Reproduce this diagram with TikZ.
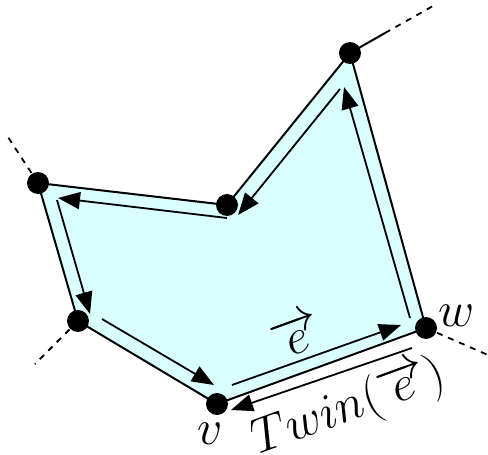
\documentclass[tikz,border=0pt]{standalone}
\usetikzlibrary{arrows.meta}
\definecolor{facefill}{RGB}{218,255,255}
\begin{document}
\begin{tikzpicture}[x=0.5pt,y=-0.5pt,
  vdot/.style={circle,fill=black,inner sep=0pt,minimum size=11pt},
  edgeline/.style={line width=1pt},
  halfedge/.style={line width=0.9pt,-{Triangle[length=11pt,width=8.5pt]}},
  outer/.style={line width=0.9pt,dash pattern=on 3pt off 3pt},
  lbl/.style={font=\fontsize{24}{28}\selectfont,inner sep=0pt}]
\useasboundingbox (0,0) rectangle (488,455);
% vertices
\coordinate (A) at (350,53);
\coordinate (B) at (227,205);
\coordinate (C) at (38,183);
\coordinate (D) at (78,321);
\coordinate (V) at (217,404);
\coordinate (W) at (426,328);
% face
\fill[facefill] (A) -- (B) -- (C) -- (D) -- (V) -- (W) -- cycle;
\draw[edgeline] (A) -- (B) -- (C) -- (D) -- (V) -- (W) -- cycle;
% outgoing edges
\coordinate (A1) at (385,33);
\coordinate (A2) at (433,6);
\coordinate (C1) at (6,134);
\coordinate (D1) at (35,364);
\coordinate (W1) at (488,355);
\draw[edgeline] (A) -- (A1);
\draw[outer] (A1) -- (A2);
\draw[outer] (C) -- (C1);
\draw[outer] (D) -- (D1);
\draw[outer] (W) -- (W1);
% half-edges inside
\coordinate (h1s) at (410,318); \coordinate (h1e) at (344,87);
\coordinate (h2s) at (340,89);  \coordinate (h2e) at (238,215);
\coordinate (h3s) at (227,218); \coordinate (h3e) at (58,198);
\coordinate (h4s) at (57,200);  \coordinate (h4e) at (90,314);
\coordinate (h5s) at (102,319); \coordinate (h5e) at (214,385);
\coordinate (h6s) at (232,385); \coordinate (h6e) at (401,325);
\coordinate (t1s) at (412,348); \coordinate (t1e) at (231,410);
\draw[halfedge] (h1s) -- (h1e);
\draw[halfedge] (h2s) -- (h2e);
\draw[halfedge] (h3s) -- (h3e);
\draw[halfedge] (h4s) -- (h4e);
\draw[halfedge] (h5s) -- (h5e);
\draw[halfedge] (h6s) -- (h6e);
\draw[halfedge] (t1s) -- (t1e);
% vertex dots
\foreach \p in {A,B,C,D,V,W} \node[vdot] (n\p) at (\p) {};
% labels
\node[lbl] (lv) at (210,434) {$v$};
\node[lbl] (lw) at (457,316) {$w$};
\node[lbl,rotate=20] (le) at (296,335) {$\overrightarrow{e}$};
\node[lbl,rotate=20] (lt) at (349,408) {$Twin(\overrightarrow{e})$};
\end{tikzpicture}
\end{document}
